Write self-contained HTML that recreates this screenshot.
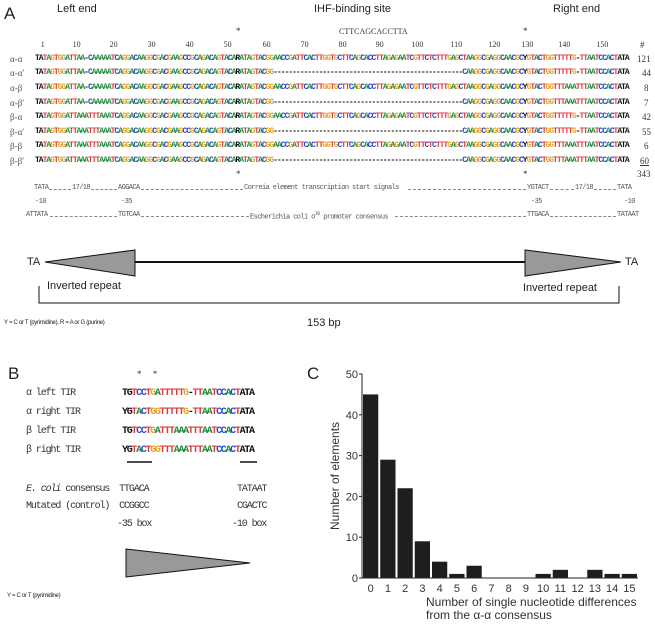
<!DOCTYPE html>
<html><head><meta charset="utf-8">
<style>
body{margin:0;width:655px;height:624px;background:#fff;position:relative;overflow:hidden;font-family:"Liberation Sans",sans-serif;color:#222}
.a{position:absolute;white-space:pre;line-height:1}
.sq{font-family:"Liberation Mono",monospace;font-size:8px;letter-spacing:-1.02px;font-weight:bold}
.sr{font-family:"Liberation Serif",serif;font-size:9px;color:#333}
.lab{font-family:"Liberation Serif",serif;font-size:9px;color:#555}
.bs{font-family:"Liberation Mono",monospace;font-size:10px;letter-spacing:-1.3px;font-weight:bold}
.bl{font-family:"Liberation Mono",monospace;font-size:10px;letter-spacing:-1.1px;color:#333}
.pm{font-family:"Liberation Mono",monospace;font-size:7px;color:#555;letter-spacing:-0.6px}
.dash{position:absolute;height:0;border-top:1px dashed #888}
</style></head><body>
<div class="a" style="left:4px;top:5px;font-size:17px">A</div>
<div class="a" style="left:57px;top:4px;font-size:11px">Left end</div>
<div class="a" style="left:314px;top:4px;font-size:11px">IHF-binding site</div>
<div class="a" style="left:553px;top:4px;font-size:11px">Right end</div>
<div class="a sr" style="left:236px;top:27px">*</div>
<div class="a sr" style="left:339px;top:28px;font-size:8px">CTTCAGCACCTTA</div>
<div class="a sr" style="left:523px;top:27px">*</div>
<div id="nums"></div>
<div class="a sr" style="left:640px;top:41px">#</div>

<div class="a lab" style="left:10px;top:55px">α-α</div>
<div class="a lab" style="left:10px;top:69px">α-α′</div>
<div class="a lab" style="left:10px;top:84px">α-β</div>
<div class="a lab" style="left:10px;top:99px">α-β′</div>
<div class="a lab" style="left:10px;top:113px">β-α</div>
<div class="a lab" style="left:10px;top:128px">β-α′</div>
<div class="a lab" style="left:10px;top:142px">β-β</div>
<div class="a lab" style="left:10px;top:157px">β-β′</div>

<div class="a sq seq" style="left:35px;top:55px">TATAGTGGATTAA-CAAAAATCAGGACAAGGCGACGAAGCCGCAGACAGTACARATAGTACGGAACCGATTCACTTGGTGCTTCAGCACCTTAGAGAATCGTTCTCTTTGAGCTAAGGCGAGGCAACGCYGTACTGGTTTTTG-TTAATCCACTATA</div>
<div class="a sq seq" style="left:35px;top:69px">TATAGTGGATTAA-CAAAAATCAGGACAAGGCGACGAAGCCGCAGACAGTACARATAGTACGG--------------------------------------------------CAAGGCGAGGCAACGCYGTACTGGTTTTTG-TTAATCCACTATA</div>
<div class="a sq seq" style="left:35px;top:84px">TATAGTGGATTAA-CAAAAATCAGGACAAGGCGACGAAGCCGCAGACAGTACARATAGTACGGAACCGATTCACTTGGTGCTTCAGCACCTTAGAGAATCGTTCTCTTTGAGCTAAGGCGAGGCAACGCYGTACTGGTTTAAATTTAATCCACTATA</div>
<div class="a sq seq" style="left:35px;top:99px">TATAGTGGATTAA-CAAAAATCAGGACAAGGCGACGAAGCCGCAGACAGTACARATAGTACGG--------------------------------------------------CAAGGCGAGGCAACGCYGTACTGGTTTAAATTTAATCCACTATA</div>
<div class="a sq seq" style="left:35px;top:113px">TATAGTGGATTAAATTTAAATCAGGACAAGGCGACGAAGCCGCAGACAGTACARATAGTACGGAACCGATTCACTTGGTGCTTCAGCACCTTAGAGAATCGTTCTCTTTGAGCTAAGGCGAGGCAACGCYGTACTGGTTTTTG-TTAATCCACTATA</div>
<div class="a sq seq" style="left:35px;top:128px">TATAGTGGATTAAATTTAAATCAGGACAAGGCGACGAAGCCGCAGACAGTACARATAGTACGG--------------------------------------------------CAAGGCGAGGCAACGCYGTACTGGTTTTTG-TTAATCCACTATA</div>
<div class="a sq seq" style="left:35px;top:142px">TATAGTGGATTAAATTTAAATCAGGACAAGGCGACGAAGCCGCAGACAGTACARATAGTACGGAACCGATTCACTTGGTGCTTCAGCACCTTAGAGAATCGTTCTCTTTGAGCTAAGGCGAGGCAACGCYGTACTGGTTTAAATTTAATCCACTATA</div>
<div class="a sq seq" style="left:35px;top:157px">TATAGTGGATTAAATTTAAATCAGGACAAGGCGACGAAGCCGCAGACAGTACARATAGTACGG--------------------------------------------------CAAGGCGAGGCAACGCYGTACTGGTTTAAATTTAATCCACTATA</div>

<div class="a sr" style="left:637px;top:55px">121</div>
<div class="a sr" style="left:642px;top:69px">44</div>
<div class="a sr" style="left:644px;top:84px">8</div>
<div class="a sr" style="left:644px;top:99px">7</div>
<div class="a sr" style="left:642px;top:113px">42</div>
<div class="a sr" style="left:642px;top:128px">55</div>
<div class="a sr" style="left:644px;top:142px">6</div>
<div class="a sr" style="left:640px;top:157px;text-decoration:underline">60</div>
<div class="a sr" style="left:637px;top:170px">343</div>
<div class="a sr" style="left:236px;top:170px">*</div>
<div class="a sr" style="left:523px;top:170px">*</div>

<!-- Correia line y~189 -->
<div>
<div class="a pm" style="left:34px;top:185px">TATA</div>
<div class="dash" style="left:49px;width:22px;top:189px"></div>
<div class="a pm" style="left:72px;top:185px">17/18</div>
<div class="dash" style="left:91px;width:26px;top:189px"></div>
<div class="a pm" style="left:118px;top:185px">AGGACA</div>
<div class="dash" style="left:141px;width:102px;top:189px"></div>
<div class="a pm" style="left:244px;top:185px">Correia element transcription start signals</div>
<div class="dash" style="left:408px;width:118px;top:189px"></div>
<div class="a pm" style="left:527px;top:185px">YGTACT</div>
<div class="dash" style="left:550px;width:24px;top:189px"></div>
<div class="a pm" style="left:575px;top:185px">17/18</div>
<div class="dash" style="left:594px;width:22px;top:189px"></div>
<div class="a pm" style="left:617px;top:185px">TATA</div>
</div>
<div>
<div class="a pm" style="left:35px;top:199px">-10</div>
<div class="a pm" style="left:121px;top:199px">-35</div>
<div class="a pm" style="left:531px;top:199px">-35</div>
<div class="a pm" style="left:624px;top:199px">-10</div>
</div>
<div>
<div class="a pm" style="left:26px;top:212px">ATTATA</div>
<div class="dash" style="left:50px;width:67px;top:216px"></div>
<div class="a pm" style="left:118px;top:212px">TGTCAA</div>
<div class="dash" style="left:141px;width:108px;top:216px"></div>
<div class="a pm" style="left:250px;top:212px">Escherichia coli σ<sup style="font-size:5px">70</sup> promoter consensus</div>
<div class="dash" style="left:395px;width:131px;top:216px"></div>
<div class="a pm" style="left:527px;top:212px">TTGACA</div>
<div class="dash" style="left:550px;width:66px;top:216px"></div>
<div class="a pm" style="left:617px;top:212px">TATAAT</div>
</div>

<svg class="a" style="left:0;top:0" width="655" height="624">
  <polygon points="45,262 135,250 135,276" fill="#999" stroke="#111" stroke-width="1"/>
  <line x1="135" y1="262" x2="525" y2="262" stroke="#111" stroke-width="2"/>
  <polygon points="621,262 525,250 525,276" fill="#999" stroke="#111" stroke-width="1"/>
  <path d="M39,286 V303 H619 V286" fill="none" stroke="#111" stroke-width="1"/>
  <polygon points="126,549 250,563 126,577" fill="#999" stroke="#111" stroke-width="1"/>
  <line x1="127" y1="462" x2="152" y2="462" stroke="#111" stroke-width="1.5"/>
  <line x1="240" y1="462" x2="257" y2="462" stroke="#111" stroke-width="1.5"/>
</svg>
<div class="a" style="left:27px;top:257px;font-size:11px">TA</div>
<div class="a" style="left:625px;top:257px;font-size:11px">TA</div>
<div class="a" style="left:47px;top:281px;font-size:11px">Inverted repeat</div>
<div class="a" style="left:523px;top:283px;font-size:11px">Inverted repeat</div>
<div class="a" style="left:4px;top:320px;font-size:6px;letter-spacing:-0.3px">Y = C or T (pyrimidine), R = A or G (purine)</div>
<div class="a" style="left:307px;top:318px;font-size:11px">153 bp</div>

<div class="a" style="left:8px;top:365px;font-size:17px">B</div>
<div class="a sr" style="left:137px;top:370px">*     *</div>
<div class="a bl" style="left:26px;top:389px">α left TIR</div>
<div class="a bl" style="left:26px;top:408px">α right TIR</div>
<div class="a bl" style="left:26px;top:427px">β left TIR</div>
<div class="a bl" style="left:26px;top:446px">β right TIR</div>
<div class="a bs seq" style="left:122px;top:389px">TGTCCTGATTTTTG-TTAATCCACTATA</div>
<div class="a bs seq" style="left:122px;top:408px">YGTACTGGTTTTTG-TTAATCCACTATA</div>
<div class="a bs seq" style="left:122px;top:427px">TGTCCTGATTTAAATTTAATCCACTATA</div>
<div class="a bs seq" style="left:122px;top:446px">YGTACTGGTTTAAATTTAATCCACTATA</div>
<div class="a bl" style="left:26px;top:485px"><i>E. coli</i> consensus  TTGACA</div>
<div class="a bl" style="left:237px;top:485px">TATAAT</div>
<div class="a bl" style="left:26px;top:502px">Mutated (control)  CCGGCC</div>
<div class="a bl" style="left:237px;top:502px">CGACTC</div>
<div class="a bl" style="left:117px;top:520px">-35 box</div>
<div class="a bl" style="left:232px;top:520px">-10 box</div>
<div class="a" style="left:7px;top:593px;font-size:6px;letter-spacing:-0.3px">Y = C or T (pyrimidine)</div>

<div class="a" style="left:307px;top:365px;font-size:17px">C</div>
<svg id="chart" class="a" style="left:0;top:0" width="655" height="624"></svg>

<script>
const categories=['0','1','2','3','4','5','6','7','8','9','10','11','12','13','14','15'];
const values=[45,29,22,9,4,1,3,0,0,0,1,2,0,2,1,1];
const yTicks=[0,10,20,30,40,50];
const posLabels=['1','10','20','30','40','50','60','70','80','90','100','110','120','130','140','150'];
const posX=[43,77,114,152,190,228,267,305,343,380,418,457,495,528,565,603];

const nums=document.getElementById('nums');
posLabels.forEach((t,i)=>{const d=document.createElement('div');


d.className='a sr';d.style.left=(posX[i]-t.length*2.2)+'px';d.style.top='41px';d.style.fontSize='8px';d.textContent=t;nums.appendChild(d);});

const col={T:'#e0383c',A:'#1f8a3a',C:'#2a48c8',G:'#e3a22a'};
document.querySelectorAll('.seq').forEach(el=>{const s=el.textContent;let h='';
for(let i=0;i<s.length;i++){const c=s[i];const black=(i<2||i>=s.length-3);
h+='<span style="color:'+(black?'#111':(col[c]||'#111'))+'">'+c+'</span>';}el.innerHTML=h;});

const svg=document.getElementById('chart');const NS='http://www.w3.org/2000/svg';
const X0=362,X1=638,Y0=578,Y50=374;
const y=v=>Y0-(v/50)*(Y0-Y50);
const slot=(X1-X0)/categories.length;
const x=i=>X0+i*slot;
function mk(t,a){const e=document.createElementNS(NS,t);for(const k in a)e.setAttribute(k,a[k]);svg.appendChild(e);return e;}
values.forEach((v,i)=>{const r=mk('rect',{x:x(i)+1,y:y(v),width:slot-2,height:Y0-y(v),fill:'#1e1e1e'});


const t=mk('text',{x:x(i)+slot/2,y:592,'text-anchor':'middle','font-size':'11','font-family':'Liberation Sans',fill:'#333'});


t.textContent=categories[i];});
const ya=mk('line',{x1:X0,y1:Y50,x2:X0,y2:Y0,stroke:'#222','stroke-width':1});


const xa=mk('line',{x1:X0,y1:Y0,x2:X1,y2:Y0,stroke:'#222','stroke-width':1});


yTicks.forEach(v=>{const tk=mk('line',{x1:X0-3,y1:y(v),x2:X0,y2:y(v),stroke:'#222'});


const t=mk('text',{x:X0-4,y:y(v)+4,'text-anchor':'end','font-size':'11','font-family':'Liberation Sans',fill:'#333'});


t.textContent=v;});
const yt=mk('text',{x:0,y:0,transform:'translate(339,476) rotate(-90)','text-anchor':'middle','font-size':'12','font-family':'Liberation Sans',fill:'#333'});


yt.textContent='Number of elements';
const xt1=mk('text',{x:426,y:606,'font-size':'12','font-family':'Liberation Sans',fill:'#333'});


xt1.textContent='Number of single nucleotide differences';
const xt2=mk('text',{x:426,y:619,'font-size':'12','font-family':'Liberation Sans',fill:'#333'});


xt2.textContent='from the α-α consensus';
</script>
</body></html>
